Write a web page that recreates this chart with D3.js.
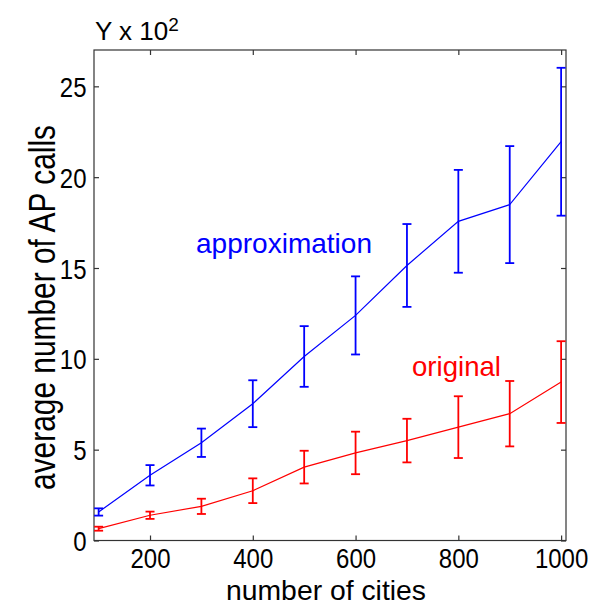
<!DOCTYPE html>
<html>
<head>
<meta charset="utf-8">
<script src="https://cdn.jsdelivr.net/npm/d3@7"></script>
<style>
  html, body { margin: 0; padding: 0; background: #fff; }
  text { font-family: "Liberation Sans", Arial, Helvetica, sans-serif; }
</style>
</head>
<body>
<svg id="chart" width="605" height="605"></svg>
<script>
// ---- data ----
const cities = [100, 200, 300, 400, 500, 600, 700, 800, 900, 1000];
const approxMean = [1.57, 3.59, 5.38, 7.53, 10.13, 12.39, 15.14, 17.57, 18.49, 21.95];
const approxErr  = [0.20, 0.56, 0.78, 1.29, 1.67, 2.15, 2.28, 2.83, 3.22, 4.07];
const origMean   = [0.65, 1.39, 1.88, 2.74, 4.04, 4.82, 5.50, 6.24, 6.98, 8.72];
const origErr    = [0.11, 0.20, 0.42, 0.68, 0.90, 1.17, 1.20, 1.70, 1.80, 2.25];
const xTicks = [200, 400, 600, 800, 1000];
const yTicks = [0, 5, 10, 15, 20, 25];

const svg = d3.select("#chart");
const L = 94, R = 566, T = 50, B = 540.5;
const x = d3.scaleLinear().domain([91, 1009.5]).range([L, R]);
const y = d3.scaleLinear().domain([0, 27]).range([B, T]);

const axisColor = "#333";
// frame
svg.append("rect").attr("x", L).attr("y", T).attr("width", R - L).attr("height", B - T)
  .attr("fill", "none").attr("stroke", axisColor).attr("stroke-width", 1.2);

// axes via d3 (inward ticks)
const fmt = d3.format("d");
const gB = svg.append("g").attr("transform", `translate(0,${B})`)
  .call(d3.axisBottom(x).tickValues(xTicks).tickFormat(fmt).tickSizeInner(-5).tickSizeOuter(0));
const gT = svg.append("g").attr("transform", `translate(0,${T})`)
  .call(d3.axisTop(x).tickValues(xTicks).tickSizeInner(-5).tickSizeOuter(0).tickFormat(""));
const gL = svg.append("g").attr("transform", `translate(${L},0)`)
  .call(d3.axisLeft(y).tickValues(yTicks).tickFormat(fmt).tickSizeInner(-5).tickSizeOuter(0));
const gR = svg.append("g").attr("transform", `translate(${R},0)`)
  .call(d3.axisRight(y).tickValues(yTicks).tickSizeInner(-5).tickSizeOuter(0).tickFormat(""));
[gB, gT, gL, gR].forEach(g => {
  g.select(".domain").remove();
  g.selectAll(".tick line").attr("stroke", axisColor).attr("stroke-width", 1.2);
  g.selectAll(".tick text").attr("fill", "#000").style("font-size", "24px")
    .style("font-family", "'Liberation Sans', Arial, sans-serif");
});
gB.selectAll(".tick text").attr("y", 0).attr("dy", 0)
  .attr("transform", "translate(0,27.5) scale(1,1.15)");
gL.selectAll(".tick text").attr("x", 0).attr("dy", 0)
  .attr("transform", "translate(-7.5,10) scale(1,1.15)");

// series
function drawSeries(means, errs, color) {
  const g = svg.append("g");
  const line = d3.line().x((d, i) => x(cities[i])).y(d => y(d));
  g.append("path").datum(means).attr("d", line)
    .attr("fill", "none").attr("stroke", color).attr("stroke-width", 1.2);
  const cap = 4.5;
  const eb = g.selectAll("g.eb").data(means).join("g");
  eb.append("line")
    .attr("x1", (d, i) => x(cities[i])).attr("x2", (d, i) => x(cities[i]))
    .attr("y1", (d, i) => y(d - errs[i])).attr("y2", (d, i) => y(d + errs[i]))
    .attr("stroke", color).attr("stroke-width", 1.8);
  eb.append("line")
    .attr("x1", (d, i) => x(cities[i]) - cap).attr("x2", (d, i) => x(cities[i]) + cap)
    .attr("y1", (d, i) => y(d - errs[i])).attr("y2", (d, i) => y(d - errs[i]))
    .attr("stroke", color).attr("stroke-width", 1.8);
  eb.append("line")
    .attr("x1", (d, i) => x(cities[i]) - cap).attr("x2", (d, i) => x(cities[i]) + cap)
    .attr("y1", (d, i) => y(d + errs[i])).attr("y2", (d, i) => y(d + errs[i]))
    .attr("stroke", color).attr("stroke-width", 1.8);
}
drawSeries(approxMean, approxErr, "#0000ff");
drawSeries(origMean, origErr, "#ff0000");

// text labels
svg.append("text").attr("x", 196).attr("y", 253).attr("fill", "#0000ff")
  .style("font-size", "28px").attr("textLength", 176).attr("lengthAdjust", "spacingAndGlyphs")
  .text("approximation");
svg.append("text").attr("x", 412).attr("y", 376).attr("fill", "#ff0000")
  .style("font-size", "28px").attr("textLength", 89).attr("lengthAdjust", "spacingAndGlyphs")
  .text("original");

// axis labels
svg.append("text").attr("x", 326).attr("y", 600).attr("text-anchor", "middle")
  .style("font-size", "28px").attr("textLength", 200).attr("lengthAdjust", "spacingAndGlyphs")
  .text("number of cities");
svg.append("text").attr("transform", "translate(55,307.5) rotate(-90) scale(1,1.3)")
  .attr("text-anchor", "middle")
  .style("font-size", "28px").attr("textLength", 365).attr("lengthAdjust", "spacingAndGlyphs")
  .text("average number of AP calls");

// exponent label
const ex = svg.append("text").attr("x", 95).attr("y", 40).style("font-size", "26px");
ex.append("tspan").text("Y x 10");
ex.append("tspan").attr("dy", -9).style("font-size", "19px").text("2");
</script>
</body>
</html>
